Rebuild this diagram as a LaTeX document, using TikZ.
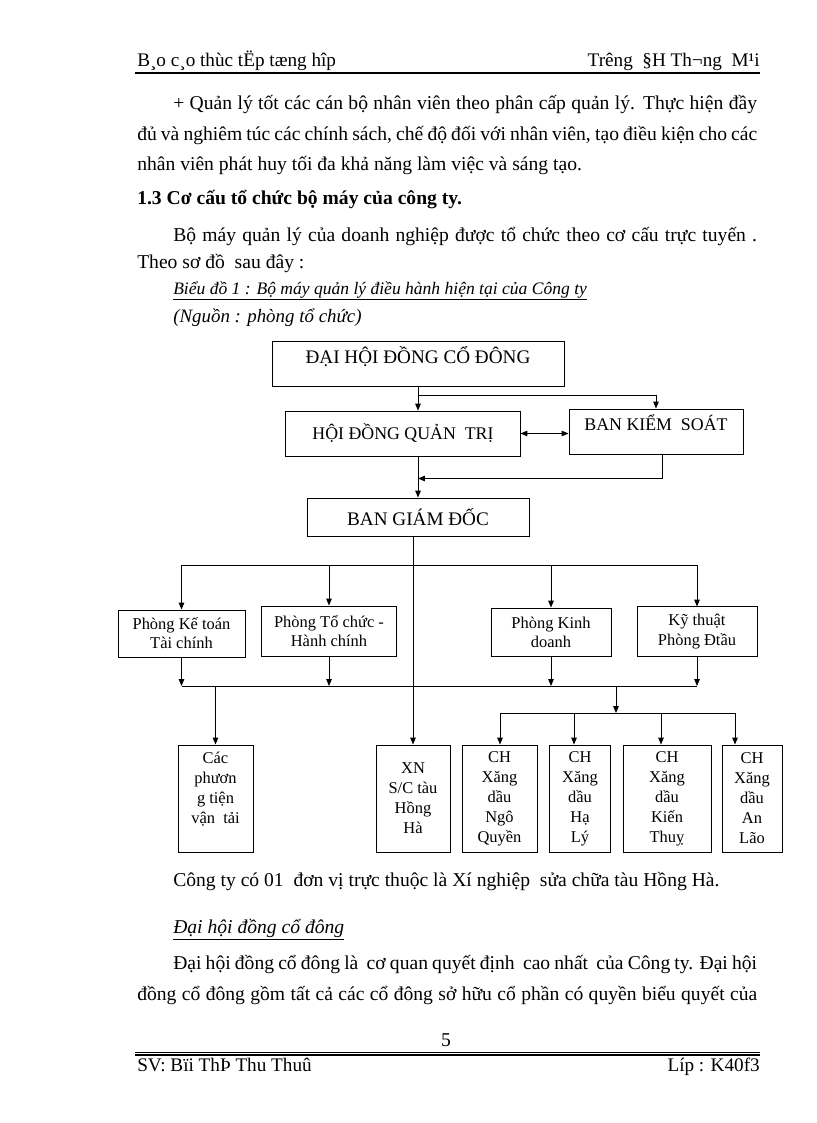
\documentclass[tikz,border=0pt]{standalone}
\usepackage{fontspec}
\setmainfont{Liberation Serif}
\usetikzlibrary{arrows.meta,calc}
\begin{document}
\begin{tikzpicture}[x=0.7297pt,y=-0.7297pt,
  body/.style={font=\fontsize{14.3}{17}\selectfont, anchor=base west, inner sep=0pt},
  box/.style={draw, line width=0.7pt, inner sep=0pt, align=center},
  capa/.style={font=\fontsize{14}{17}\selectfont},
  capb/.style={font=\fontsize{13}{16}\selectfont},
  smalla/.style={font=\fontsize{12}{14}\selectfont},
  smallb/.style={font=\fontsize{12}{14.6}\selectfont},
  ln/.style={line width=0.7pt},
  arr/.style={ln, -{Triangle[length=5pt,width=4pt]}},
  darr/.style={ln, {Triangle[length=5pt,width=4pt]}-{Triangle[length=5pt,width=4pt]}},
]
\fill[white] (0,0) rectangle (816,1123);
\useasboundingbox (0,0) rectangle (816,1123);

% header
\node[body, font=\fontsize{14}{17}\selectfont] (h1) at (137,66) {B¸o c¸o thùc tËp tæng hîp};
\node[body, font=\fontsize{14}{17}\selectfont, anchor=base east] (h2) at (760,66) {Trêng\ \ §H Th¬ng\ \ M¹i};
\coordinate (hl) at (135,73); \coordinate (hr) at (760,73);
\draw[line width=1.4pt] (hl) -- (hr);

% body text top
\node[body] (p1) at (173,109) {\makebox[426pt][s]{+ Quản lý tốt các cán bộ nhân viên theo phân cấp quản lý. Thực hiện đầy}};
\node[body] (p2) at (137,140) {\makebox[452.4pt][s]{đủ và nghiêm túc các chính sách, chế độ đối với nhân viên, tạo điều kiện cho các}};
\node[body] (p3) at (137,170) {nhân viên phát huy tối đa khả năng làm việc và sáng tạo.};
\node[body, font=\fontsize{14.3}{17}\selectfont\bfseries] (p4) at (137,204) {1.3 Cơ cấu tổ chức bộ máy của công ty.};
\node[body] (p5) at (173,241) {\makebox[426pt][s]{Bộ máy quản lý của doanh nghiệp được tổ chức theo cơ cấu trực tuyến .}};
\node[body] (p6) at (137,268) {Theo sơ đồ\ \ sau đây :};
\node[body, font=\fontsize{12.8}{15}\selectfont\itshape] (p7) at (173,294) {\underline{Biểu đồ 1 : Bộ máy quản lý điều hành hiện tại của Công ty}};
\node[body, font=\fontsize{13.8}{16}\selectfont\itshape] (p8) at (173,322) {(Nguồn : phòng tổ chức)};

% diagram boxes
\node[box, capa, minimum width=213.1pt, text height=16.3pt, text depth=17.2pt] (dh) at (418,364) {ĐẠI HỘI ĐỒNG CỔ ĐÔNG};
\node[box, capb, minimum width=170.8pt, minimum height=32.8pt] (hd) at (403,433.5) {HỘI ĐỒNG QUẢN\ \ TRỊ};
\node[box, capb, minimum width=127pt, text height=16.05pt, text depth=16.8pt] (bk) at (656,431.5) {BAN KIỂM\ \ SOÁT};
\node[box, capa, minimum width=162pt, minimum height=27.7pt] (bg) at (418,517) {BAN GIÁM ĐỐC};

\node[box, smalla, minimum width=92.7pt, minimum height=34.3pt] (kt) at (181.5,633.5) {Phòng Kế toán\\Tài chính};
\node[box, smalla, minimum width=99.2pt, minimum height=36.5pt] (tc) at (329,631) {Phòng Tổ chức -\\Hành chính};
\node[box, smalla, minimum width=87.6pt, minimum height=35.0pt] (kd) at (551,632) {Phòng Kinh\\doanh};
\node[box, smalla, minimum width=87.6pt, minimum height=35.8pt] (kth) at (697,631.5) {Kỹ thuật\\Phòng Đtầu};

\node[box, smallb, minimum width=54.7pt, minimum height=78.1pt] (ca) at (215.5,798.5) {Các\\phươn\\g tiện\\vận\ \ tải\\[-4pt]\strut};
\node[box, smallb, minimum width=54pt, minimum height=78.1pt] (xn) at (413,798.5) {XN\\S/C tàu\\Hồng\\Hà};
\node[box, smallb, minimum width=54.7pt, minimum height=78.1pt] (nq) at (499.5,798.5) {CH\\Xăng\\dầu\\Ngô\\Quyền};
\node[box, smallb, minimum width=45.2pt, minimum height=78.1pt] (hl2) at (580,798.5) {CH\\Xăng\\dầu\\Hạ\\Lý};
\node[box, smallb, minimum width=64.2pt, minimum height=78.1pt] (kit) at (667,798.5) {CH\\Xăng\\dầu\\Kiến\\Thuỵ};
\node[box, smallb, minimum width=43.8pt, minimum height=78.1pt] (al) at (752,798.5) {CH\\Xăng\\dầu\\An\\Lão};

% connectors
\coordinate (j1) at ($(dh.south)+(0,8)$);
\draw[arr] (dh.south) -- (dh.south |- hd.north);
\draw[arr] (j1) -| (bk.north);
\draw[darr] (hd.east) -- (hd.east -| bk.west);
\draw[arr] (bg.north |- hd.south) -- (bg.north);
\coordinate (j2) at ($(bk.south)+(6,0)$);
\coordinate (j3) at ($(j2)+(0,24)$);
\draw[arr] (j2) -- (j3) -- (j3 -| bg.north);
\draw[arr] (bg.south -| xn.north) -- (xn.north);

\coordinate (bus1) at (0,565);
\draw[ln] (kt.north |- bus1) -- (kth.north |- bus1);
\draw[arr] (kt.north |- bus1) -- (kt.north);
\draw[arr] (tc.north |- bus1) -- (tc.north);
\draw[arr] (kd.north |- bus1) -- (kd.north);
\draw[arr] (kth.north |- bus1) -- (kth.north);

\coordinate (bus2) at (0,686);
\draw[arr] (kt.south) -- (kt.south |- bus2);
\draw[arr] (tc.south) -- (tc.south |- bus2);
\draw[arr] (kd.south) -- (kd.south |- bus2);
\draw[arr] (kth.south) -- (kth.south |- bus2);
\draw[ln] (kt.south |- bus2) -- (kth.south |- bus2);
\draw[arr] (ca.north |- bus2) -- (ca.north);
\coordinate (j4) at (616,686);
\coordinate (c1) at (500,713);
\coordinate (c2) at (574,713);
\coordinate (c3) at (661,713);
\coordinate (c4) at (735,713);
\draw[arr] (j4) -- (j4 |- c1);
\draw[ln] (c1) -- (c4);
\draw[arr] (c1) -- (c1 |- nq.north);
\draw[arr] (c2) -- (c2 |- hl2.north);
\draw[arr] (c3) -- (c3 |- kit.north);
\draw[arr] (c4) -- (c4 |- al.north);

% body text bottom
\node[body] (q1) at (173,886) {Công ty có 01\ \ đơn vị trực thuộc là Xí nghiệp\ \ sửa chữa tàu Hồng Hà.};
\node[body, font=\fontsize{14.3}{17}\selectfont\itshape] (q2) at (173,933) {\underline{Đại hội đồng cổ đông}};
\node[body] (q3) at (173,969) {\makebox[426pt][s]{Đại hội đồng cổ đông là\ \ cơ quan quyết định\ \ cao nhất\ \ của Công ty. Đại hội}};
\node[body] (q4) at (137,1000) {\makebox[452.4pt][s]{đồng cổ đông gồm tất cả các cổ đông sở hữu cổ phần có quyền biểu quyết của}};

% footer
\node[body, anchor=base] (pg) at (446,1046) {5};
\coordinate (fl1) at (135,1052); \coordinate (fr1) at (760,1052);
\coordinate (fl2) at (135,1055); \coordinate (fr2) at (760,1055);
\draw[line width=0.5pt] (fl1) -- (fr1);
\draw[line width=1.3pt] (fl2) -- (fr2);
\node[body, font=\fontsize{14}{17}\selectfont] (f1) at (137,1071) {SV: Bïi ThÞ Thu Thuû};
\node[body, font=\fontsize{14}{17}\selectfont, anchor=base east] (f2) at (760,1071) {Líp : K40f3};
\end{tikzpicture}
\end{document}
